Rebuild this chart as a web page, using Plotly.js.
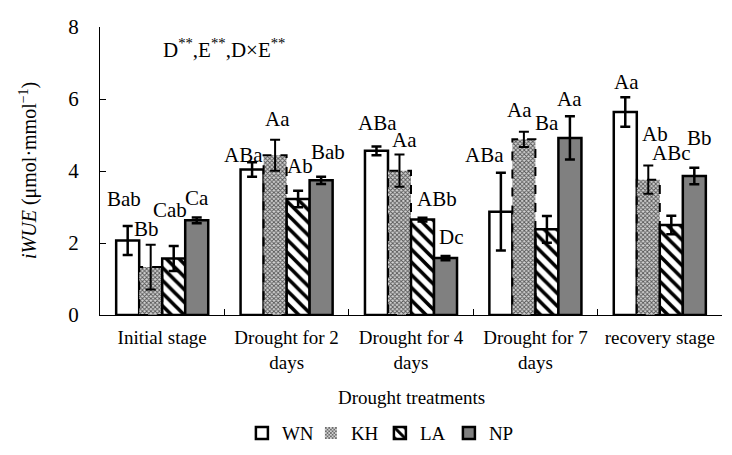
<!DOCTYPE html>
<html>
<head>
<meta charset="utf-8">
<script src="https://cdn.plot.ly/plotly-3.0.1.min.js"></script>
<style>
  html, body { margin: 0; padding: 0; background: #fff; }
  #chart { width: 732px; height: 455px; }
</style>
</head>
<body>
<div id="chart"></div>
<script>
// Drought stages on the x axis
const stages = ['Initial stage', 'Drought for 2<br>days', 'Drought for 4<br>days', 'Drought for 7<br>days', 'recovery stage'];
const varieties = ['WN', 'KH', 'LA', 'NP'];

// iWUE means (µmol·mmol⁻¹) and their error bars
const wnValues = [2.07, 4.04, 4.56, 2.87, 5.64];
const wnErrors = [0.40, 0.20, 0.12, 1.08, 0.41];
const khValues = [1.33, 4.44, 4.01, 4.88, 3.76];
const khErrors = [0.62, 0.43, 0.45, 0.21, 0.39];
const laValues = [1.57, 3.22, 2.65, 2.38, 2.50];
const laErrors = [0.35, 0.23, 0.05, 0.37, 0.26];
const npValues = [2.63, 3.74, 1.58, 4.92, 3.86];
const npErrors = [0.08, 0.10, 0.06, 0.60, 0.23];

// Significance letters per bar
const wnLetters = ['Bab', 'ABa', 'ABa', 'ABa', 'Aa'];
const khLetters = ['Bb', 'Aa', 'Aa', 'Aa', 'Ab'];
const laLetters = ['Cab', 'Ab', 'ABb', 'Ba', 'ABc'];
const npLetters = ['Ca', 'Bab', 'Dc', 'Aa', 'Bb'];

// Where each letter sits (axis units) and its sideways nudge (px)
const letterY = [
  [3.22, 4.44, 5.33, 4.44, 6.47],
  [2.39, 5.44, 4.86, 5.69, 5.03],
  [2.92, 4.14, 3.22, 5.33, 4.50],
  [3.25, 4.53, 2.17, 6.00, 4.92]
];
const letterShift = [
  [-4, -9, 1, -16, 1],
  [-4, 2, 5, -4, 7],
  [-4, 2, 14, 0, 0],
  [0, 7, 6, 0, 5]
];

const FONT = 'Liberation Serif';
const BARGAP = 0.26;
const barW = (1 - BARGAP) / 4;

const errStyle = { type: 'data', visible: true, color: '#000', thickness: 2.5, width: 5 };

const traces = [
  {
    name: 'WN', type: 'bar', x: stages, y: wnValues,
    error_y: Object.assign({ array: wnErrors }, errStyle),
    marker: { color: '#ffffff', line: { color: '#000', width: 2.5 } }
  },
  {
    name: 'KH', type: 'bar', x: stages, y: khValues,
    error_y: Object.assign({ array: khErrors }, errStyle, { thickness: 2 }),
    marker: {
      color: '#a8a8a8',
      line: { color: '#000', width: 0 },
      pattern: { shape: 'x', fgcolor: '#555555', bgcolor: '#d4d4d4', size: 3, solidity: 0.5 }
    }
  },
  {
    name: 'LA', type: 'bar', x: stages, y: laValues,
    error_y: Object.assign({ array: laErrors }, errStyle),
    marker: {
      color: '#ffffff',
      line: { color: '#000', width: 2.5 },
      pattern: { shape: '\\', fgcolor: '#000', bgcolor: '#ffffff', size: 9, solidity: 0.4 }
    }
  },
  {
    name: 'NP', type: 'bar', x: stages, y: npValues,
    error_y: Object.assign({ array: npErrors }, errStyle),
    marker: { color: '#808080', line: { color: '#000', width: 2.5 } }
  }
];

const allLetters = [wnLetters, khLetters, laLetters, npLetters];
const annotations = [];
allLetters.forEach((letters, k) => {
  letters.forEach((txt, i) => {
    annotations.push({
      x: i + (k - 1.5) * barW, y: letterY[k][i], xref: 'x', yref: 'y',
      text: txt, showarrow: false, xshift: letterShift[k][i],
      font: { family: FONT, size: 21, color: '#000' }
    });
  });
});

// Effects summary
annotations.push({
  x: 0.2, y: 0.925, xref: 'paper', yref: 'paper', xanchor: 'center', yanchor: 'middle',
  text: 'D<sup>**</sup>,E<sup>**</sup>,D×E<sup>**</sup>', showarrow: false,
  font: { family: FONT, size: 21, color: '#000' }
});
// y-axis title
annotations.push({
  x: 0, y: 0.5, xref: 'paper', yref: 'paper', xanchor: 'center', yanchor: 'middle',
  xshift: -72, textangle: -90, showarrow: false,
  text: '<i>iWUE</i> (μmol·mmol<sup>−1</sup>)',
  font: { family: FONT, size: 20, color: '#000' }
});
// x-axis title
annotations.push({
  x: 0.5, y: 0, xref: 'paper', yref: 'paper', xanchor: 'center', yanchor: 'middle',
  yshift: -82, showarrow: false, text: 'Drought treatments',
  font: { family: FONT, size: 19, color: '#000' }
});

// Dashed outline for the KH bars
const shapes = khValues.map((v, i) => ({
  type: 'rect', xref: 'x', yref: 'y',
  x0: i - barW, x1: i, y0: 0, y1: v,
  line: { color: '#000', width: 2, dash: 'dash' }, fillcolor: 'rgba(0,0,0,0)'
}));

const layout = {
  width: 732, height: 455,
  margin: { l: 100, r: 10, t: 27, b: 140 },
  paper_bgcolor: '#fff', plot_bgcolor: '#fff',
  barmode: 'group', bargap: BARGAP, bargroupgap: 0,
  font: { family: FONT, color: '#000' },
  showlegend: true,
  legend: {
    orientation: 'h', x: 0.45, xanchor: 'center',
    yref: 'container', y: 0.048, yanchor: 'middle',
    font: { family: FONT, size: 19, color: '#000' },
    itemwidth: 30, traceorder: 'normal', entrywidth: 24
  },
  xaxis: {
    type: 'category', showline: true, linecolor: '#000', linewidth: 1,
    ticks: 'inside', tickson: 'boundaries', ticklen: 6, tickcolor: '#000',
    ticklabelstandoff: 5,
    tickfont: { family: FONT, size: 19, color: '#000' },
    showgrid: false, zeroline: false, fixedrange: true, automargin: false
  },
  yaxis: {
    range: [0, 8], dtick: 2, showline: true, linecolor: '#000', linewidth: 1,
    ticks: 'inside', ticklen: 6, tickcolor: '#000', ticklabelstandoff: 16,
    tickfont: { family: FONT, size: 21, color: '#000' },
    showgrid: false, zeroline: false, fixedrange: true, automargin: false
  },
  annotations: annotations,
  shapes: shapes
};

Plotly.newPlot('chart', traces, layout, { displayModeBar: false, staticPlot: true });
</script>
</body>
</html>
